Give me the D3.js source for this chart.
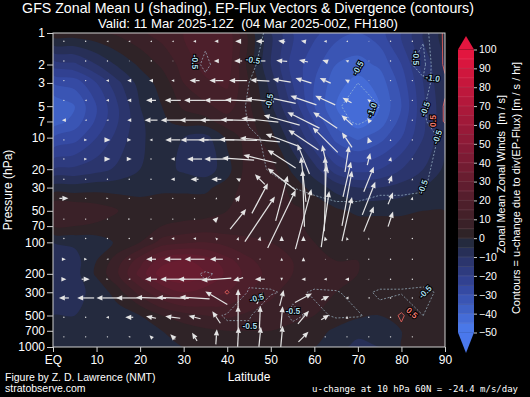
<!DOCTYPE html>
<html>
<head>
<meta charset="utf-8">
<script src="https://cdn.jsdelivr.net/npm/d3@7"></script>
<style>
  body { margin: 0; background: #000; }
  svg { display: block; font-family: "Liberation Sans", Arial, sans-serif; }
</style>
</head>
<body>
<div id="chart"></div>
<script>
// ---- data ----
const lats = [0, 5, 10, 15, 20, 25, 30, 35, 40, 45, 50, 55, 60, 65, 70, 75, 80, 85, 90];
const levels = [1, 2, 3, 5, 7, 10, 20, 30, 50, 70, 100, 150, 200, 300, 500, 700, 1000];

// zonal mean U [m/s], one row per level (top -> bottom), one column per latitude
const uWind = [
  [3, 3, 4, 6, 9, 12, 15, 18, 18, 3, -10, -20, -24, -28, -30, -27, -20, -10, -3],
  [-18, -16, -10, -4, 1, 6, 12, 17, 18, 3, -10, -22, -28, -35, -37, -34, -25, -13, -5],
  [-30, -28, -20, -11, -3, 2, 10, 14, 16, 5, -7, -20, -30, -38, -42, -38, -28, -15, -5],
  [-40, -35, -25, -15, -5, 0, 6, 9, 12, 6, -4, -16, -30, -40, -45, -40, -30, -16, -6],
  [-38, -33, -24, -15, -6, -1, 2, 3, 8, 7, -1, -12, -25, -37, -43, -38, -28, -16, -6],
  [-30, -27, -20, -13, -6, -2, -5, -7, 1, 8, 2, -8, -20, -32, -36, -32, -25, -15, -6],
  [-15, -14, -12, -9, -5, -3, -6, -8, -2, 8, 7, -1, -8, -18, -22, -20, -15, -10, -4],
  [-3, -3, -2, -2, -2, -1, -1, -1, 2, 8, 9, 3, -2, -7, -10, -10, -8, -5, -2],
  [10, 10, 8, 5, 3, 3, 3, 3, 5, 7, 8, 6, 4, 1, -1, -1, -1, 0, 0],
  [5, 5, 4, 3, 3, 5, 6, 7, 7, 8, 8, 6, 4, 2, 2, 2, 2, 2, 1],
  [-5, -4, -3, 1, 5, 12, 14, 15, 13, 11, 10, 8, 5, 4, 3, 3, 3, 2, 1],
  [-8, -7, 0, 8, 18, 28, 31, 28, 22, 16, 12, 10, 7, 5, 5, 4, 3, 2, 1],
  [-8, -7, 1, 10, 22, 33, 35, 30, 24, 18, 13, 10, 7, 5, 5, 4, 3, 2, 1],
  [-6, -6, -4, 3, 12, 20, 25, 23, 20, 15, 11, 8, 6, 5, 4, 3, 2, 2, 1],
  [-5, -5, -5, -3, 0, 5, 8, 10, 11, 9, 8, 6, 5, 3, 1, 0, 1, 2, 1],
  [-4, -5, -5, -5, -3, 0, 2, 4, 5, 5, 5, 4, 2, -1, -4, -3, 0, 1, 0],
  [-3, -3, -3, -3, -3, -2, 0, 2, 3, 3, 2, 1, 0, -4, -6, -5, 0, 0, 0]
];

// u-change due to div(EP-flux) [m/s/hr], same grid
const divF = [
  [0, 0, 0, 0, 0, 0, 0, -0.3, 0, -0.3, -0.6, -0.7, -0.6, -0.7, -0.7, -0.6, -0.8, -0.9, 0.7],
  [0, 0, 0, 0, 0, 0, 0, -0.65, 0, -0.4, -0.7, -0.8, -0.7, -0.8, -0.9, -0.7, -0.8, -1.2, 0.7],
  [0, 0, 0, 0, 0, 0, 0, -0.3, 0, -0.5, -0.7, -0.8, -0.8, -0.9, -1.0, -0.8, -0.7, -0.9, 0.3],
  [0, 0, 0, 0, 0, 0, 0, 0, 0, -0.6, -0.7, -0.8, -0.8, -0.95, -1.15, -1.0, -0.7, -0.6, 0.6],
  [0, 0, 0, 0, 0, 0, 0, 0, 0, -0.55, -0.65, -0.7, -0.8, -0.9, -1.05, -0.9, -0.7, -0.7, 0.6],
  [0, 0, 0, 0, 0, 0, 0, 0, 0, -0.4, -0.6, -0.7, -0.75, -0.8, -0.8, -0.7, -0.6, -0.7, -0.4],
  [0, 0, 0, 0, 0, 0, 0, 0, 0, -0.3, -0.55, -0.65, -0.7, -0.7, -0.7, -0.6, -0.6, -0.6, -0.3],
  [0, 0, 0, 0, 0, 0, 0, 0, 0, 0, -0.3, -0.5, -0.6, -0.65, -0.65, -0.6, -0.6, -0.55, -0.2],
  [0, 0, 0, 0, 0, 0, 0, 0, 0, 0, 0, -0.2, -0.3, -0.4, -0.4, -0.3, -0.3, -0.3, 0],
  [0, 0, 0, 0, 0, 0, 0, 0, 0, 0, 0, 0, 0, 0, 0, 0, 0, 0, 0],
  [0, 0, 0, 0, 0, 0, 0, 0, 0, 0, 0, 0, 0, 0, 0, 0, 0, 0, 0],
  [0, 0, 0, 0, 0, 0, 0, 0, 0, 0, 0, 0, 0, 0, 0, 0, 0, 0, 0],
  [0, 0, 0, 0, 0, 0, -0.2, -0.6, -0.3, -0.2, 0, 0, 0, 0, 0, 0, 0, 0, 0],
  [0, 0, 0, 0, 0, 0, 0, -0.3, 0.6, -0.6, -0.6, -0.3, -0.6, -0.55, -0.3, -0.6, -0.6, -0.7, -0.3],
  [0, 0, 0, 0, 0, 0, 0, -0.2, -0.6, -0.6, 0.3, -0.7, -0.3, -0.6, -0.55, -0.3, 0.65, -0.5, -0.2],
  [0, 0, 0, 0, 0, 0, 0, 0, -0.3, -0.3, -0.4, -0.2, 0, 0, 0, 0, 0.3, 0, 0],
  [0, 0, 0, 0, 0, 0, 0, 0, 0, 0, 0, 0, 0, 0, 0, 0, 0, 0, 0]
];

// EP-flux vectors (scaled), arrow grid
const arrowLats = [2.5, 7.5, 12.5, 17.5, 22.5, 27.5, 32.5, 37.5, 42.5, 47.5, 52.5, 57.5, 62.5, 67.5, 72.5, 77.5, 82.5];
const arrowLevels = [1.2, 1.85, 2.85, 4.4, 6.8, 10.5, 16, 25, 38, 60, 92, 145, 225, 340, 520, 800];
const fluxY = [
  [0, 0, -2, -2, -2, -2, -3, -4, -6, -8, -7, -5, -3, -2, -1, 0, 0],
  [0, 0, 0, -1, -2, -1, -3, -5, -8, -11, -11, -9, -6, -3, -1, 0, 0],
  [0, 0, -3, -4, -4, -3, -10, -14, -18, -19, -18, -16, -11, -4, -1, 0, 0],
  [0, -2, -3, -4, -10, -16, -21, -24, -26, -28, -28, -26, -20, -9, -3, -1, 0],
  [-4, -2, -2, -4, -13, -24, -30, -33, -35, -37, -36, -32, -24, -11, -3, 0, 0],
  [0, 3, 6, 4, -3, -15, -28, -36, -38, -40, -32, -30, -25, -10, -2, 0, 0],
  [0, 3, 6, 5, 0, -4, -15, -24, -32, -33, -28, -12, -6, 4, 3, 1, 0],
  [0, 0, 0, 0, 0, -4, -8, -10, -4, -10, -28, -5, 0, 8, 10, 3, 0],
  [9, 0, 2, 0, 0, 0, 0, 0, 4, 16, 12, -2, 2, 10, 13, 5, 1],
  [0, 0, 0, 2, 0, 0, 0, 4, 16, 30, 28, 16, 8, 10, 10, 5, 0],
  [0, 0, 0, 0, -3, -3, -3, -2, 1, 1, 0, 0, -1, -1, 0, 0, 0],
  [4, 3, -2, -2, -10, -17, -20, -13, 0, -1, 0, 0, -1, -1, 0, 0, 0],
  [5, 8, 2, -2, -12, -25, -33, -30, -10, -10, 0, -4, -3, -4, -1, 0, 0],
  [-10, -17, -22, -26, -30, -32, -30, -22, 0, 6, 4, 17, 8, -3, -2, 0, 0],
  [0, 0, -3, -8, -10, -15, -12, -8, 0, 1, 2, 11, 8, 0, 0, 0, 0],
  [0, 0, 0, -2, -3, -5, -5, 1, 1, 2, 2, 10, 0, 0, 0, 0, 0]
];
const fluxZ = [
  [0, 0, 0, 0, 0, 0, 0, 0, 0, 0, 1, 1, 0, 0, 0, 0, 0],
  [0, 0, 0, 0, 0, 0, 0, 0, 0, 0, 1, 2, 2, 1, 0, 0, 0],
  [0, 0, 0, 0, 0, 0, 0, 0, 0, 1, 3, 5, 5, 2, 0, 0, 0],
  [0, 0, 0, 0, 0, 0, 0, 0, 1, 3, 6, 9, 9, 5, 2, 0, 0],
  [0, 0, 0, 0, 0, 0, 0, 0, 1, 4, 10, 16, 16, 10, 4, 1, 0],
  [0, 0, 0, 0, 0, 0, 0, 0, 1, 4, 12, 20, 25, 15, 6, 2, 0],
  [0, 0, 0, 0, 0, 0, 0, 0, 2, 8, 18, 30, 28, 26, 12, 4, 0],
  [0, 0, 0, 0, 0, 0, 0, 0, 2, 10, 22, 45, 45, 35, 25, 8, 2],
  [0, 0, 0, 0, 0, 0, 0, 2, 6, 30, 45, 57, 66, 55, 33, 12, 3],
  [0, 0, 0, 0, 0, 0, 0, 4, 20, 45, 58, 60, 56, 44, 25, 15, 2],
  [0, 0, 0, 0, 0, 0, 0, 2, 3, 4, 5, 5, 4, 3, 2, 1, 0],
  [0, 0, 0, 0, 0, 0, 0, 0, -2, -1, 3, 4, 0, 0, 0, 0, 0],
  [0, 0, 0, 0, 0, 0, 0, -2, -3, 0, -3, 0, 0, 0, 0, 0, 0],
  [0, 0, 0, 0, 1, 1, 2, 13, 18, 12, 16, 9, 4, 0, 0, 0, 0],
  [0, 0, 0, 0, 2, 2, 3, 12, 23, 23, 22, 13, 5, 3, 0, 0, 0],
  [0, 0, 0, 0, 3, 5, 8, 15, 20, 20, 22, 10, 0, 0, 0, 0, 0]
];

// contour labels (lat, hPa, text, angle, positive?)
const contourLabels = [
  [32.6, 1.89, "-0.5", 90, false], [45.9, 1.81, "-0.5", 10, false],
  [49.6, 4.46, "-0.5", -80, false], [70.0, 2.16, "-0.5", -60, false],
  [73.2, 5.44, "-1.0", -70, false], [83.3, 1.73, "-0.5", 90, false],
  [87.2, 2.69, "-1.0", 10, false], [85.4, 5.32, "-0.5", -70, false],
  [87.2, 6.93, "0.5", -90, true], [88.2, 9.87, "-0.5", -70, false],
  [84.9, 29.5, "-0.5", -70, false], [46.8, 340, "-0.5", -15, false],
  [55.1, 454, "-0.5", 0, false], [45.2, 630, "-0.5", 0, false],
  [85.4, 298, "-0.5", -45, false], [82.4, 472, "0.5", 40, true]
];

const yTicks = [1, 2, 3, 5, 7, 10, 20, 30, 50, 70, 100, 200, 300, 500, 700, 1000];
const xTicks = [0, 10, 20, 30, 40, 50, 60, 70, 80, 90];
const cbTicks = [-50, -40, -30, -20, -10, 0, 10, 20, 30, 40, 50, 60, 70, 80, 90, 100];

// ---- chart ----
const W = 530, H = 397;
const x = d3.scaleLinear().domain([0, 90]).range([53, 445]);
const y = d3.scaleLog().domain([1, 1000]).range([33, 347]);
const color = d3.scaleLinear()
  .domain([-47.5, -25, -10, -2.5, 2.5, 10, 50, 97.5])
  .range(["#4a78e8", "#32449a", "#293264", "#242a3e", "#2f2327", "#3f2028", "#8a1a37", "#e2163f"])
  .clamp(true);
const arrowScale = d3.scaleLinear().domain([0, 10]).range([0, 10]);

const svg = d3.select("#chart").append("svg").attr("width", W).attr("height", H);
svg.append("rect").attr("width", W).attr("height", H).attr("fill", "#000");

svg.append("defs").append("clipPath").attr("id", "plotclip")
  .append("rect").attr("x", 53).attr("y", 33).attr("width", 392).attr("height", 314);
const plot = svg.append("g").attr("clip-path", "url(#plotclip)");

const nx = lats.length, ny = levels.length;
const latStep = lats[1] - lats[0];

// contour grid coords -> pixels (samples sit at cell centres)
function toPx(pt) {
  const sx = Math.max(0, Math.min(nx - 1, pt[0] - 0.5));
  const sy = Math.max(0, Math.min(ny - 1, pt[1] - 0.5));
  const i = Math.min(Math.floor(sy), ny - 2), f = sy - i;
  const lp = Math.log(levels[i]) + f * (Math.log(levels[i + 1]) - Math.log(levels[i]));
  return [x(lats[0] + sx * latStep), y(Math.exp(lp))];
}

const smooth = d3.line().curve(d3.curveCatmullRomClosed.alpha(0.5));
function bandPath(coords) {
  let d = "";
  coords.forEach(poly => poly.forEach(ring => {
    const pts = [];
    ring.forEach(p => {
      const q = toPx(p);
      const last = pts[pts.length - 1];
      if (!last || Math.abs(last[0] - q[0]) > 0.05 || Math.abs(last[1] - q[1]) > 0.05) pts.push(q);
    });
    if (pts.length > 1) {
      const a = pts[0], b = pts[pts.length - 1];
      if (Math.abs(a[0] - b[0]) < 0.05 && Math.abs(a[1] - b[1]) < 0.05) pts.pop();
    }
    if (pts.length > 2) d += smooth(pts);
  }));
  return d;
}

// shading
plot.append("rect").attr("x", 53).attr("y", 33).attr("width", 392).attr("height", 314)
  .attr("fill", color(-47.5));
const bands = d3.contours().size([nx, ny]).thresholds(d3.range(-50, 101, 5))(uWind.flat());
plot.selectAll("path.band").data(bands).join("path")
  .attr("class", "band")
  .attr("d", c => bandPath(c.coordinates))
  .attr("fill", c => color(c.value + 2.5))
  .attr("fill-rule", "evenodd");

// divergence contour lines
function onEdge(p) {
  return p[0] <= 0.5 || p[0] >= nx - 0.5 || p[1] <= 0.5 || p[1] >= ny - 0.5;
}
function linePath(coords) {
  let d = "";
  coords.forEach(poly => poly.forEach(ring => {
    let pen = false;
    for (let k = 1; k < ring.length; k++) {
      const a = ring[k - 1], b = ring[k];
      if (onEdge(a) && onEdge(b)) { pen = false; continue; }
      const pa = toPx(a), pb = toPx(b);
      if (!pen) d += "M" + pa[0].toFixed(1) + "," + pa[1].toFixed(1);
      d += "L" + pb[0].toFixed(1) + "," + pb[1].toFixed(1);
      pen = true;
    }
  }));
  return d;
}
const divFlat = divF.flat();
const negLines = d3.contours().size([nx, ny]).thresholds([0.5, 1.0])(divFlat.map(v => -v));
const posLines = d3.contours().size([nx, ny]).thresholds([0.5])(divFlat);
plot.selectAll("path.neg").data(negLines).join("path")
  .attr("class", "neg")
  .attr("d", c => linePath(c.coordinates))
  .attr("fill", "none").attr("stroke", "#a9c6d6").attr("stroke-opacity", 0.8)
  .attr("stroke-width", 0.8).attr("stroke-dasharray", "2,1.6");
plot.selectAll("path.pos").data(posLines).join("path")
  .attr("class", "pos")
  .attr("d", c => linePath(c.coordinates))
  .attr("fill", "none").attr("stroke", "#e0605a").attr("stroke-width", 0.9);

// EP-flux arrows (pivot at middle)
const arrows = [];
arrowLevels.forEach((p, r) => arrowLats.forEach((la, c) => {
  arrows.push({ lat: la, p: p, fy: fluxY[r][c], fz: fluxZ[r][c] });
}));
const arrowG = plot.append("g").attr("fill", "#e4e4e4").attr("stroke", "#e4e4e4");
arrows.forEach(a => {
  const cx = x(a.lat), cy = y(a.p);
  const dx = arrowScale(a.fy), dy = -arrowScale(a.fz);
  const L = Math.hypot(dx, dy);
  if (L < 0.5) {
    arrowG.append("circle").attr("cx", cx).attr("cy", cy).attr("r", 0.7).attr("stroke", "none");
    return;
  }
  const ux = dx / L, uy = dy / L;
  const hl = Math.min(6, L), hw = Math.min(2.6, L * 0.45);
  const tx = cx - dx / 2, ty = cy - dy / 2;
  const hx = cx + dx / 2, hy = cy + dy / 2;
  const bx = hx - ux * hl, by = hy - uy * hl;
  if (L > hl + 0.5) {
    arrowG.append("line").attr("x1", tx).attr("y1", ty).attr("x2", bx).attr("y2", by)
      .attr("stroke-width", 1.2);
  }
  arrowG.append("path")
    .attr("d", `M${hx},${hy}L${bx - uy * hw},${by + ux * hw}L${bx + uy * hw},${by - ux * hw}Z`)
    .attr("stroke", "none");
});

// contour labels
contourLabels.forEach(([la, p, t, ang, pos]) => {
  plot.append("text")
    .attr("transform", `translate(${x(la)},${y(p)}) rotate(${ang})`)
    .attr("text-anchor", "middle").attr("dy", "0.35em")
    .attr("font-size", 8.5).attr("font-weight", "bold")
    .attr("fill", pos ? "#f07a70" : "#a8d8e6")
    .attr("stroke", "#000").attr("stroke-width", 2).attr("paint-order", "stroke")
    .text(t);
});

// frame and axes
svg.append("rect").attr("x", 53).attr("y", 33).attr("width", 392).attr("height", 314)
  .attr("fill", "none").attr("stroke", "#d0d0d0").attr("stroke-width", 1);

const yAxis = svg.append("g").attr("transform", "translate(53,0)")
  .call(d3.axisLeft(y).tickValues(yTicks).tickFormat(d3.format("d")).tickSize(6).tickPadding(2));
const xAxis = svg.append("g").attr("transform", "translate(0,347)")
  .call(d3.axisBottom(x).tickValues(xTicks).tickFormat(d => d === 0 ? "EQ" : d).tickSize(5).tickPadding(3));
[yAxis, xAxis].forEach(g => {
  g.select(".domain").remove();
  g.selectAll(".tick line").attr("stroke", "#d0d0d0");
  g.selectAll(".tick text").attr("fill", "#fff").attr("font-size", 12)
    .attr("font-family", "Liberation Sans, Arial, sans-serif");
});

svg.append("text").attr("transform", "translate(12,190) rotate(-90)")
  .attr("text-anchor", "middle").attr("fill", "#fff").attr("font-size", 12).text("Pressure (hPa)");
svg.append("text").attr("x", 249).attr("y", 381).attr("text-anchor", "middle")
  .attr("fill", "#fff").attr("font-size", 12).text("Latitude");

// title
svg.append("text").attr("x", 248).attr("y", 13).attr("text-anchor", "middle")
  .attr("fill", "#fff").attr("font-size", 14.2)
  .text("GFS Zonal Mean U (shading), EP-Flux Vectors & Divergence (contours)");
svg.append("text").attr("x", 248).attr("y", 28).attr("text-anchor", "middle")
  .attr("fill", "#fff").attr("font-size", 13.2).style("white-space", "pre")
  .text("Valid: 11 Mar 2025-12Z  (04 Mar 2025-00Z, FH180)");

// footer
svg.append("text").attr("x", 5).attr("y", 381).attr("fill", "#fff").attr("font-size", 10.5)
  .text("Figure by Z. D. Lawrence (NMT)");
svg.append("text").attr("x", 5).attr("y", 392).attr("fill", "#fff").attr("font-size", 10.5)
  .text("stratobserve.com");
svg.append("text").attr("x", 518).attr("y", 392).attr("text-anchor", "end")
  .attr("fill", "#fff").attr("font-size", 9).attr("font-family", "DejaVu Sans Mono, monospace")
  .text("u-change at 10 hPa 60N = -24.4 m/s/day");

// colorbar
const cbX = 458, cbW = 16;
const cbY = d3.scaleLinear().domain([-50, 100]).range([332.5, 49.5]);
const cb = svg.append("g");
cb.selectAll("rect").data(d3.range(-50, 100, 5)).join("rect")
  .attr("x", cbX).attr("width", cbW)
  .attr("y", d => cbY(d + 5)).attr("height", d => cbY(d) - cbY(d + 5) + 0.3)
  .attr("fill", d => color(d + 2.5));
cb.append("path").attr("d", `M${cbX},${cbY(100)}L${cbX + cbW / 2},36L${cbX + cbW},${cbY(100)}Z`)
  .attr("fill", "#e3163f");
cb.append("path").attr("d", `M${cbX},${cbY(-50)}L${cbX + cbW / 2},353L${cbX + cbW},${cbY(-50)}Z`)
  .attr("fill", "#4a78ec");
cb.selectAll("line.sep").data(d3.range(-45, 100, 5)).join("line")
  .attr("class", "sep")
  .attr("x1", cbX).attr("x2", cbX + cbW).attr("y1", d => cbY(d)).attr("y2", d => cbY(d))
  .attr("stroke", "#fff").attr("stroke-opacity", 0.18).attr("stroke-width", 0.6);
const cbAxis = svg.append("g").attr("transform", `translate(${cbX + cbW},0)`)
  .call(d3.axisRight(cbY).tickValues(cbTicks).tickFormat(d => d < 0 ? "\u2212" + Math.abs(d) : d)
    .tickSize(3).tickPadding(2));
cbAxis.select(".domain").remove();
cbAxis.selectAll(".tick line").attr("stroke", "#ccc");
cbAxis.selectAll(".tick text").attr("fill", "#fff").attr("font-size", 10.5)
  .attr("font-family", "Liberation Sans, Arial, sans-serif");

svg.append("text").attr("transform", "translate(505,174) rotate(-90)")
  .attr("text-anchor", "middle").attr("fill", "#fff").attr("font-size", 11)
  .style("white-space", "pre").text("Zonal Mean Zonal Winds  [m / s]");
svg.append("text").attr("transform", "translate(520,188) rotate(-90)")
  .attr("text-anchor", "middle").attr("fill", "#fff").attr("font-size", 11)
  .text("Contours = u-change due to div(EP-Flux) [m / s / hr]");
</script>
</body>
</html>
